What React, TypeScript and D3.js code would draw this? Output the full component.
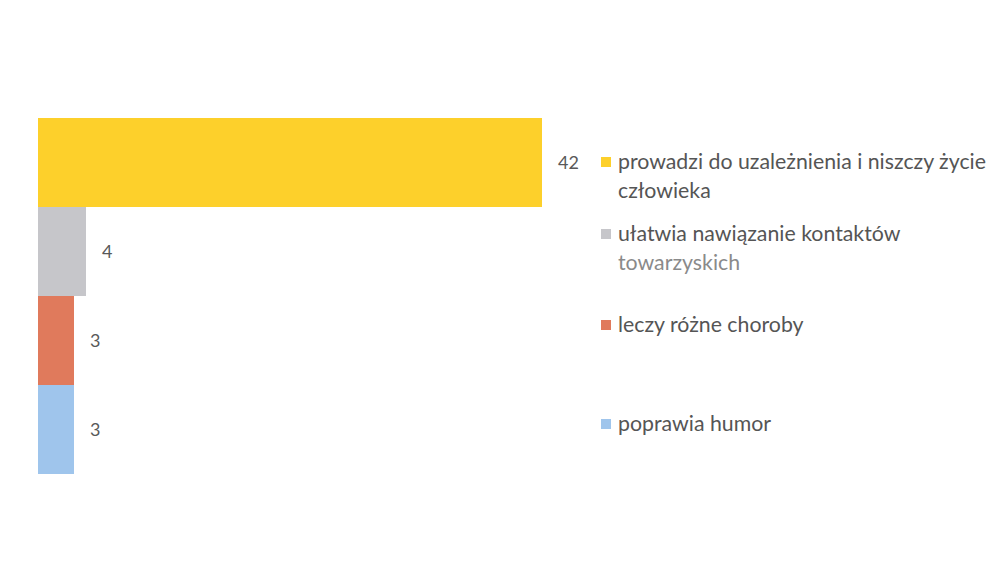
import React from "react";
import * as d3 from "d3";

const categories = [
  "prowadzi do uzależnienia i niszczy życie człowieka",
  "ułatwia nawiązanie kontaktów towarzyskich",
  "leczy różne choroby",
  "poprawia humor",
];
const values = [42, 4, 3, 3];
const colors = ["#fdd02b", "#c6c6ca", "#e07a5c", "#9fc5ec"];
const legendLines = [
  ["prowadzi do uzależnienia i niszczy życie", "człowieka"],
  ["ułatwia nawiązanie kontaktów", "towarzyskich"],
  ["leczy różne choroby"],
  ["poprawia humor"],
];
const legendY = [162, 234, 325, 424];

export default function App() {
  const W = 996, H = 575;
  const x = d3.scaleLinear().domain([0, 42]).range([38, 542]);
  const y = d3.scaleBand<number>().domain(d3.range(values.length)).range([118, 474]).padding(0);
  const font = "Lato, 'Open Sans', sans-serif";
  return (
    <svg width={W} height={H} style={{ position: "absolute", left: 0, top: 0, background: "#fff" }}>
      {values.map((v, i) => (
        <g key={i}>
          <rect x={x(0)} y={y(i)!} width={x(v) - x(0)} height={y.bandwidth()} fill={colors[i]} />
          <text x={x(v) + 16} y={y(i)! + y.bandwidth() / 2} dy="0.35em" fontFamily={font} fontSize={18} fill="#595959">
            {v}
          </text>
        </g>
      ))}
      {categories.map((c, i) => (
        <g key={c}>
          <rect x={601} y={legendY[i] - 5} width={10} height={10} fill={colors[i]} />
          {legendLines[i].map((ln, j) => (
            <text key={j} x={618} y={legendY[i] + j * 29} dy="0.35em" fontFamily={font} fontSize={21.3}
              fill={i === 1 && j === 1 ? "#8a8a8a" : "#555555"}>
              {ln}
            </text>
          ))}
        </g>
      ))}
    </svg>
  );
}
